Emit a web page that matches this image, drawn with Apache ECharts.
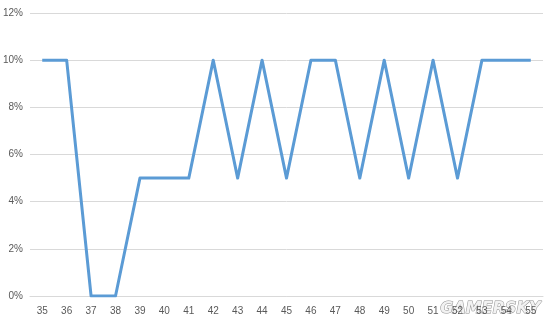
<!DOCTYPE html>
<html><head><meta charset="utf-8">
<script src="https://cdn.jsdelivr.net/npm/echarts@6/dist/echarts.min.js"></script>
<style>html,body{margin:0;padding:0;background:#fff}#c{width:550px;height:320px}</style>
</head><body><div id="c"></div>
<script>
var categories = ['35','36','37','38','39','40','41','42','43','44','45','46','47','48','49','50','51','52','53','54','55'];
var values = [10,10,0,0,5,5,5,10,5,10,5,10,10,5,10,5,10,5,10,10,10];
var chart = echarts.init(document.getElementById('c'));
chart.setOption({
  animation: false,
  grid: {left: 29, right: 7, top: 13, bottom: 24, containLabel: false},
  xAxis: {
    type: 'category', data: categories, boundaryGap: true,
    axisLine: {show: true, lineStyle: {color: '#d9d9d9', width: 1}},
    axisTick: {show: false},
    axisLabel: {color: '#595959', fontSize: 10, fontFamily: 'Liberation Sans, Arial', margin: 10}
  },
  yAxis: {
    type: 'value', min: 0, max: 12, interval: 2,
    axisLine: {show: false}, axisTick: {show: false},
    axisLabel: {color: '#595959', fontSize: 10, fontFamily: 'Liberation Sans, Arial', margin: 7, formatter: '{value}%'},
    splitLine: {lineStyle: {color: '#d9d9d9', width: 1}}
  },
  series: [{
    type: 'line', data: values, symbol: 'none',
    lineStyle: {color: '#5b9bd5', width: 3, join: 'round'}
  }],
  graphic: [{
    type: 'text', right: 9, top: 300,
    style: {text: 'GAMERSKY', fontSize: 16, fontWeight: 'bold', fontStyle: 'italic', fontFamily: 'DejaVu Sans', fill: '#f2f2f2', stroke: '#8f8f8f', lineWidth: 1}
  }]
});
</script></body></html>
